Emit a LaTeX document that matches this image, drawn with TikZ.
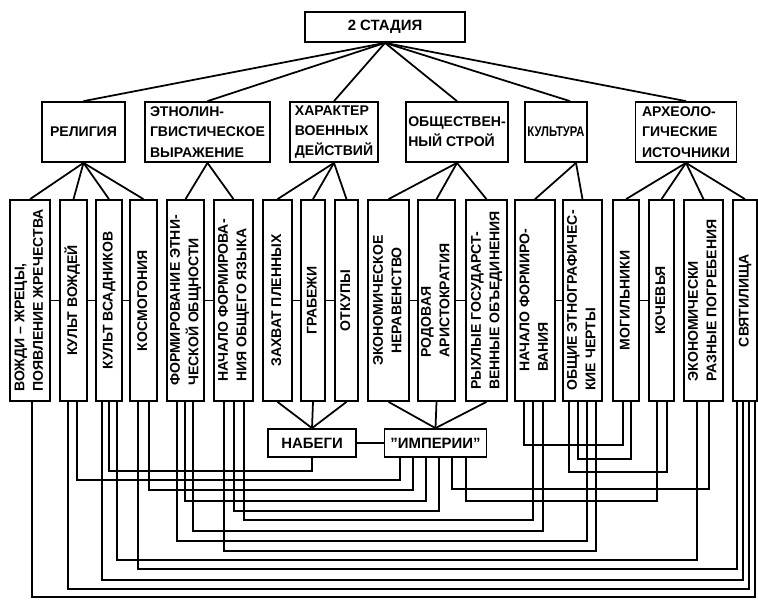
\documentclass[tikz,border=0pt]{standalone}
\usepackage{fontspec}
\setmainfont{Liberation Sans}
\usetikzlibrary{calc}
\newcommand{\vlab}[2][l]{\rotatebox{90}{\begin{tabular}{@{}#1@{}}#2\end{tabular}}}
\tikzset{
topbox/.style={
 draw=black,
 line width=1pt,
 minimum width=3.2cm,
 minimum height=0.6cm,
 font=\fontsize{8.5}{10}\selectfont\bfseries
 },
grpbox/.style={
 draw=black,
 line width=1pt,
 minimum width=#1*0.02cm,
 minimum height=1.2cm,
 inner sep=1pt,
 align=left,
 font=\fontsize{8}{11.5}\selectfont\bfseries
 },
colbox/.style={
 draw=black,
 line width=1pt,
 minimum width=#1*0.02cm,
 minimum height=4.02cm,
 inner sep=0pt,
 font=\fontsize{8}{10.5}\selectfont\bfseries
 },
botbox/.style={
 draw=black,
 line width=1pt,
 minimum width=#1*0.02cm,
 minimum height=0.56cm,
 font=\fontsize{8.5}{10}\selectfont\bfseries
 },
lien/.style={
 draw=black,
 line width=1pt
 }
}
\begin{document}
\begin{tikzpicture}[x=0.02cm,y=-0.02cm]
\useasboundingbox (0,0) rectangle (758,600);
\node[topbox] (top) at (385,27) {2 СТАДИЯ};
\node[grpbox=83] (rel) at (83.5,132) {РЕЛИГИЯ};
\node[grpbox=125] (eth) at (207.5,132) {ЭТНОЛИН-\\ГВИСТИЧЕСКОЕ\\ВЫРАЖЕНИЕ};
\node[grpbox=88] (har) at (334,132) {ХАРАКТЕР\\ВОЕННЫХ\\ДЕЙСТВИЙ};
\node[grpbox=102] (obs) at (457,132) {ОБЩЕСТВЕН-\\НЫЙ СТРОЙ};
\node[grpbox=62] (kul) at (556,132) {\scalebox{0.8}[1]{КУЛЬТУРА}};
\node[grpbox=101] (arc) at (686,132) {АРХЕОЛО-\\ГИЧЕСКИЕ\\ИСТОЧНИКИ};
\node[colbox=40] (b1) at (30,300.5) {\vlab{ВОЖДИ – ЖРЕЦЫ,\\ПОЯВЛЕНИЕ ЖРЕЧЕСТВА}};
\node[colbox=27] (b2) at (73.5,300.5) {\vlab{КУЛЬТ ВОЖДЕЙ}};
\node[colbox=26] (b3) at (109,300.5) {\vlab{КУЛЬТ ВСАДНИКОВ}};
\node[colbox=27] (b4) at (143.5,300.5) {\vlab{КОСМОГОНИЯ}};
\node[colbox=37] (b5) at (185.5,300.5) {\vlab{ФОРМИРОВАНИЕ ЭТНИ-\\ЧЕСКОЙ ОБЩНОСТИ}};
\node[colbox=39] (b6) at (233.5,300.5) {\vlab{НАЧАЛО ФОРМИРОВА-\\НИЯ ОБЩЕГО ЯЗЫКА}};
\node[colbox=29] (b7) at (277.5,300.5) {\vlab{ЗАХВАТ ПЛЕННЫХ}};
\node[colbox=24] (b8) at (313,300.5) {\vlab{ГРАБЕЖИ}};
\node[colbox=23] (b9) at (346.5,300.5) {\vlab{ОТКУПЫ}};
\node[colbox=41] (b10) at (388.5,300.5) {\vlab[c]{ЭКОНОМИЧЕСКОЕ\\НЕРАВЕНСТВО}};
\node[colbox=37] (b11) at (436.5,300.5) {\vlab{РОДОВАЯ\\АРИСТОКРАТИЯ}};
\node[colbox=41] (b12) at (486.5,300.5) {\vlab{РЫХЛЫЕ ГОСУДАРСТ-\\ВЕННЫЕ ОБЪЕДИНЕНИЯ}};
\node[colbox=40] (b13) at (535,300.5) {\vlab{НАЧАЛО ФОРМИРО-\\ВАНИЯ}};
\node[colbox=39] (b14) at (582.5,300.5) {\vlab{ОБЩИЕ ЭТНОГРАФИЧЕС-\\КИЕ ЧЕРТЫ}};
\node[colbox=26] (b15) at (626,300.5) {\vlab{МОГИЛЬНИКИ}};
\node[colbox=25] (b16) at (661.5,300.5) {\vlab{КОЧЕВЬЯ}};
\node[colbox=39] (b17) at (703.5,300.5) {\vlab{ЭКОНОМИЧЕСКИ\\РАЗНЫЕ ПОГРЕБЕНИЯ}};
\node[colbox=24] (b18) at (745,300.5) {\vlab{СВЯТИЛИЩА}};
\node[botbox=88] (nab) at (312,443) {НАБЕГИ};
\node[botbox=99] (imp) at (435.5,443) {''ИМПЕРИИ''};
\foreach \g in {rel,eth,har,obs,arc}
 \draw[lien] (top.south) -- (\g.north);
\draw[lien] (top.south) -- ($(kul.north)+(14,0)$);
\foreach \b in {b1,b2,b3,b4}
 \draw[lien] (rel.south) -- (\b.north);
\foreach \b in {b5,b6}
 \draw[lien] (eth.south) -- (\b.north);
\foreach \b in {b7,b8,b9}
 \draw[lien] (har.south) -- (\b.north);
\foreach \b in {b10,b11,b12}
 \draw[lien] (obs.south) -- (\b.north);
\foreach \b in {b13,b14}
 \draw[lien] ($(kul.south)+(20,0)$) -- (\b.north);
\foreach \b in {b15,b16,b17,b18}
 \draw[lien] (arc.south) -- (\b.north);
\foreach \a/\b in {b1/b2,b2/b3,b3/b4,b5/b6,b7/b8,b8/b9,b10/b11,b11/b12,b13/b14,b15/b16}
 \draw[lien] (\a) -- (\b);
\foreach \b in {b7,b8,b9}
 \draw[lien] (\b.south) -- (nab.north);
\foreach \b in {b10,b11,b12}
 \draw[lien] (\b.south) -- (imp.north);
\draw[lien] (nab) -- (imp);
\foreach \a/\da/\yy/\b/\db in {b1/2/597/b18/10,b2/-5.5/589/b18/4,b3/-7/580/b18/-2,b4/-5.5/569/b18/-8,
 b3/8/560/b17/-6.5,b6/-9.5/551/b14/13.5,b5/-8.5/541/b14/4.5,b5/7.5/531/b13/8,b6/10.5/520/b13/-2,
 b6/0.5/511/imp/3.5,b5/-0.5/501/imp/-9.5,b4/5.5/490/imp/-22.5,b2/3.5/480/imp/-35.5,b3/0/471/nab/0,
 imp/16.5/489/b17/5.5,imp/30.5/501/b16/-4.5,b13/-11/445/b15/-3,b14/-4.5/459/b15/5,b14/-13.5/472/b16/5.5}{
 \coordinate (p) at ($(\a.south)+(\da,0)$);
 \coordinate (q) at ($(\b.south)+(\db,0)$);
 \coordinate (h) at (0,\yy);
 \draw[lien] (p) -- (p |- h) -| (q);
}
\end{tikzpicture}
\end{document}
